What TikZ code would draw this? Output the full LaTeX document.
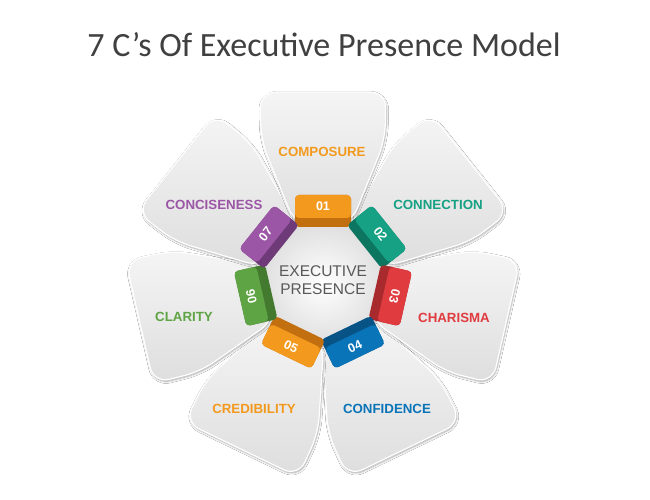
\documentclass[tikz,border=0pt]{standalone}
\usepackage{fontspec}
\setmainfont{Liberation Sans}
\newfontfamily\titlefont{Carlito}
\usetikzlibrary{shapes.geometric,shadows.blur}

\definecolor{titlegray}{HTML}{404040}
\definecolor{hubgray}{HTML}{595959}
\definecolor{corange}{HTML}{F39A1E}
\definecolor{corangedk}{HTML}{C26F10}
\definecolor{cteal}{HTML}{16A084}
\definecolor{ctealdk}{HTML}{0D7661}
\definecolor{cred}{HTML}{E03B3F}
\definecolor{creddk}{HTML}{A82A2D}
\definecolor{cblue}{HTML}{0A74B8}
\definecolor{cbluedk}{HTML}{075386}
\definecolor{cgreen}{HTML}{5FA444}
\definecolor{cgreendk}{HTML}{437A30}
\definecolor{cpurple}{HTML}{9C56A6}
\definecolor{cpurpledk}{HTML}{6E3A77}

\tikzstyle{petal}  = [top color=black!4, bottom color=black!13, draw=white, line width=1.2pt, rounded corners=16pt,
                      blur shadow={shadow xshift=0.8pt, shadow yshift=-1.5pt, shadow blur steps=6, shadow opacity=35}]
\tikzstyle{hub}    = [regular polygon, regular polygon sides=7, shape border rotate=180, minimum size=132pt, inner sep=0pt,
                      inner color=white, outer color=black!13, draw=white, line width=2pt, rounded corners=5pt,
                      blur shadow={shadow xshift=0pt, shadow yshift=-1.5pt, shadow blur steps=6, shadow opacity=30}]
\tikzstyle{hubtext}= [align=center, text=hubgray, font=\fontsize{15.5}{18}\selectfont, inner sep=0pt]
\tikzstyle{tabnum} = [text=white, font=\bfseries\fontsize{12.5}{14}\selectfont, inner sep=0pt]
\tikzstyle{clabel} = [font=\bfseries\fontsize{13.3}{15}\selectfont, inner sep=0pt]

\begin{document}
\begin{tikzpicture}[x=1pt, y=1pt]
    \useasboundingbox (-323,-220) rectangle (327,280);
    \fill[white] (-323,-220) rectangle (327,280);
    \node (title) [font=\titlefont\fontsize{34}{40}\selectfont, text=titlegray] at (1,235) {7 C’s Of Executive Presence Model};
    \foreach \k in {3,4,2,5,1,6,0} {
        \begin{scope}[rotate=-\k*51.4286]
            \path[petal] (-28,56) -- (-62,140) -- (-63,188) -- (63,188) -- (62,140) -- (28,56) -- cycle;
        \end{scope}
    }
    \node (hub) [hub] at (0,0) {};
    \node (hubtext) [hubtext] at (hub.center) {EXECUTIVE\\PRESENCE};
    \foreach \k/\num/\tc/\nr in {0/01/corange/0, 1/02/cteal/-51.43, 2/03/cred/-102.86, 3/04/cblue/25.71,
                                 4/05/corange/-25.71, 5/06/cgreen/102.86, 6/07/cpurple/51.43} {
        \begin{scope}[rotate=-\k*51.4286]
            \fill[\tc dk, rounded corners=4pt] (-28,53) rectangle (28,85);
            \fill[\tc, rounded corners=4pt] (-28,62) rectangle (28,85);
        \end{scope}
        \node (n\num) [tabnum, rotate=\nr] at (90-\k*51.4286:73.5) {\num};
    }
    \node (composure)   [clabel, text=corange] at (-1,128)   {COMPOSURE};
    \node (connection)  [clabel, text=cteal]   at (115,75)   {CONNECTION};
    \node (charisma)    [clabel, text=cred]    at (131,-38)  {CHARISMA};
    \node (confidence)  [clabel, text=cblue]   at (64,-129)  {CONFIDENCE};
    \node (credibility) [clabel, text=corange] at (-69,-129) {CREDIBILITY};
    \node (clarity)     [clabel, text=cgreen]  at (-139,-37) {CLARITY};
    \node (conciseness) [clabel, text=cpurple] at (-109,75)  {CONCISENESS};
\end{tikzpicture}
\end{document}
